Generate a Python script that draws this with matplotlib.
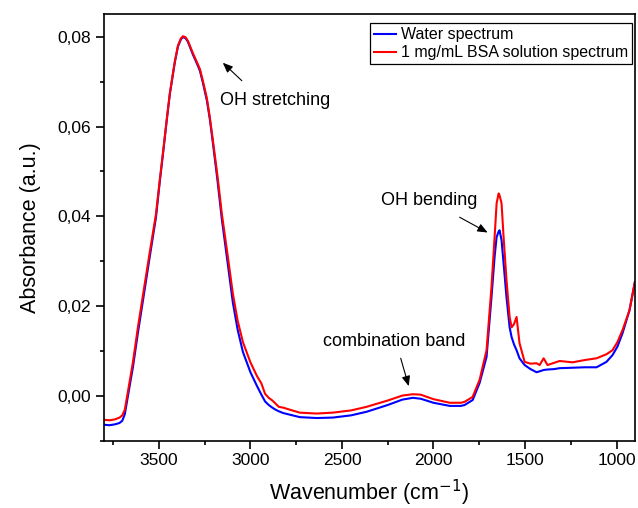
import matplotlib
matplotlib.use('Agg')
import matplotlib.pyplot as plt
from matplotlib.ticker import MultipleLocator, FuncFormatter

plt.rcParams['font.family'] = ['Liberation Sans', 'DejaVu Sans']

# wavenumber grid (cm-1) and absorbance of both spectra
wavenumber = [3800, 3770, 3740, 3715, 3700, 3686, 3665, 3642, 3615, 3587,
              3550, 3516, 3495, 3478, 3456, 3440, 3413, 3396, 3380, 3369,
              3355, 3342, 3314, 3290, 3276, 3260, 3238, 3222, 3205, 3180,
              3156, 3125, 3096, 3070, 3041, 3000, 2965, 2940, 2920, 2900,
              2880, 2860, 2845, 2820, 2780, 2730, 2638, 2550, 2450, 2365,
              2250, 2170, 2113, 2070, 2000, 1911, 1850, 1830, 1786, 1748,
              1710, 1683, 1666, 1655, 1644, 1639, 1628, 1617, 1601, 1584,
              1573, 1560, 1546, 1530, 1502, 1470, 1437, 1420, 1398, 1377,
              1340, 1311, 1240, 1175, 1109, 1055, 1022, 995, 967, 929, 900]

water = [-0.0064, -0.0065, -0.0063, -0.0060, -0.0055, -0.0040, 0.0010, 0.0064, 0.0140, 0.0213,
         0.0310, 0.0398, 0.0478, 0.0538, 0.0618, 0.0673, 0.0743, 0.0778, 0.0794, 0.0799,
         0.0797, 0.0789, 0.0760, 0.0738, 0.0724, 0.0698, 0.0658, 0.0617, 0.0563, 0.0480,
         0.0393, 0.0298, 0.0208, 0.0148, 0.0098, 0.0053, 0.0023, 0.0003, -0.0012, -0.0020,
         -0.0026, -0.0031, -0.0034, -0.0038, -0.0042, -0.0047, -0.0049, -0.0048, -0.0043, -0.0035,
         -0.0020, -0.0008, -0.0004, -0.0006, -0.0015, -0.0022, -0.0022, -0.0020, -0.0009, 0.0029,
         0.0087, 0.0220, 0.0310, 0.0354, 0.0366, 0.0369, 0.0347, 0.0296, 0.0220, 0.0153,
         0.0131, 0.0115, 0.0102, 0.0084, 0.0069, 0.0060, 0.0053, 0.0055, 0.0058, 0.0059,
         0.0060, 0.0062, 0.0063, 0.0064, 0.0064, 0.0076, 0.0091, 0.0110, 0.0140, 0.0191, 0.0253]

bsa = [-0.0053, -0.0054, -0.0052, -0.0048, -0.0043, -0.0030, 0.0020, 0.0075, 0.0152, 0.0225,
       0.0320, 0.0405, 0.0482, 0.0541, 0.0620, 0.0675, 0.0745, 0.0780, 0.0796, 0.0801,
       0.0799, 0.0791, 0.0763, 0.0741, 0.0728, 0.0702, 0.0663, 0.0621, 0.0569, 0.0490,
       0.0405, 0.0315, 0.0228, 0.0168, 0.0120, 0.0075, 0.0045, 0.0028, 0.0005, -0.0004,
       -0.0010, -0.0018, -0.0024, -0.0026, -0.0031, -0.0037, -0.0039, -0.0037, -0.0032, -0.0024,
       -0.0010, 0.0001, 0.0004, 0.0003, -0.0007, -0.0015, -0.0015, -0.0013, -0.0002, 0.0036,
       0.0102, 0.0243, 0.0354, 0.0429, 0.0451, 0.0447, 0.0429, 0.0354, 0.0258, 0.0176,
       0.0153, 0.0160, 0.0176, 0.0118, 0.0076, 0.0072, 0.0073, 0.0069, 0.0084, 0.0069,
       0.0074, 0.0078, 0.0075, 0.0080, 0.0084, 0.0093, 0.0102, 0.0120, 0.0147, 0.0191, 0.0253]

fig = plt.figure(figsize=(6.38, 5.08), dpi=100)
ax = fig.add_axes([0.163, 0.132, 0.832, 0.840])

ax.plot(wavenumber, water, color='#0000ff', lw=1.5, label='Water spectrum')
ax.plot(wavenumber, bsa, color='#ff0000', lw=1.5, label='1 mg/mL BSA solution spectrum')

ax.set_xlim(3800, 900)
ax.set_ylim(-0.01, 0.085)

ax.xaxis.set_major_locator(MultipleLocator(500))
ax.xaxis.set_minor_locator(MultipleLocator(250))
ax.yaxis.set_major_locator(MultipleLocator(0.02))
ax.yaxis.set_minor_locator(MultipleLocator(0.01))
ax.yaxis.set_major_formatter(FuncFormatter(lambda v, p: '{:.2f}'.format(v).replace('.', ',')))

ax.tick_params(which='both', direction='out', width=1.2, labelsize=12.5)
ax.tick_params(which='major', length=5.5)
ax.tick_params(which='minor', length=3)
for s in ax.spines.values():
    s.set_linewidth(1.2)

ax.set_xlabel('Wavenumber (cm$^{-1}$)', fontsize=15.5, labelpad=7)
ax.set_ylabel('Absorbance (a.u.)', fontsize=15.5, labelpad=12)

leg = ax.legend(loc='upper right', bbox_to_anchor=(0.995, 0.979), fontsize=11.5,
                frameon=True, fancybox=False, edgecolor='black', framealpha=1,
                borderpad=0.25, labelspacing=0.2, handlelength=1.4,
                handletextpad=0.3, borderaxespad=0)
leg.get_frame().set_linewidth(0.9)

arrow = dict(arrowstyle='-|>,head_length=0.6,head_width=0.25', color='black',
             lw=0.8, shrinkA=0, shrinkB=0, mutation_scale=10)
ax.annotate('', xy=(3151, 0.0742), xytext=(3047, 0.0702), arrowprops=arrow)
ax.text(2867, 0.0658, 'OH stretching', fontsize=13, ha='center', va='center')
ax.annotate('', xy=(1704, 0.0364), xytext=(1857, 0.0398), arrowprops=arrow)
ax.text(2021, 0.0436, 'OH bending', fontsize=13, ha='center', va='center')
ax.annotate('', xy=(2135, 0.0022), xytext=(2179, 0.0084), arrowprops=arrow)
ax.text(2212, 0.0122, 'combination band', fontsize=13, ha='center', va='center')

plt.savefig('out.png', dpi=100)
